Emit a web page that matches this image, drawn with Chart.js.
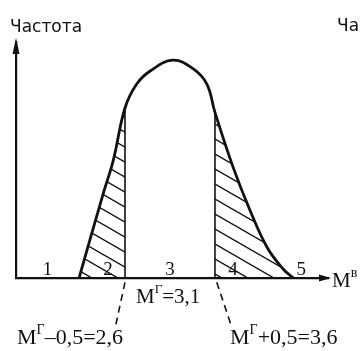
<!DOCTYPE html>
<html>
<head>
<meta charset="utf-8">
<script src="https://cdn.jsdelivr.net/npm/chart.js@4/dist/chart.umd.min.js"></script>
<style>
  body { margin: 0; background: #fff; }
  #wrap { width: 363px; height: 351px; }
</style>
</head>
<body>
<div id="wrap"><canvas id="freqChart"></canvas></div>
<script>
// frequency curve (x in M units, y = relative frequency)
const curveX = [2.09, 2.36, 2.47, 2.6, 2.73, 2.88, 3.13, 3.36, 3.51, 3.6, 3.8, 3.99, 4.18, 4.36, 4.47];
const curveY = [0, 0.39, 0.54, 0.78, 0.89, 0.95, 1.0, 0.96, 0.89, 0.76, 0.51, 0.31, 0.14, 0.04, 0];

// mean and the +/- 0.5 bounds
const meanValue = 3.1;
const lowBound = 2.6;
const highBound = 3.6;

// zone numbers along the axis
const zoneLabels = ["1", "2", "3", "4", "5"];
const zoneX = [1.74, 2.41, 3.1, 3.8, 4.56];

const toPoints = (xs, ys) => xs.map((x, i) => ({ x: x, y: ys[i] }));
const curvePts = toPoints(curveX, curveY);
const leftPts = curvePts.filter(p => p.x <= lowBound);
const rightPts = curvePts.filter(p => p.x >= highBound);
const yAt = (x) => curvePts.find(p => p.x === x).y;

// diagonal hatch pattern
function makeHatch() {
  const w = 26, h = 15;
  const c = document.createElement("canvas");
  c.width = w; c.height = h;
  const g = c.getContext("2d");
  g.strokeStyle = "#111";
  g.lineWidth = 1.4;
  g.beginPath();
  g.moveTo(-w, -h); g.lineTo(2 * w, 2 * h);
  g.moveTo(-w, 0); g.lineTo(w, 2 * h);
  g.moveTo(0, -h); g.lineTo(2 * w, h);
  g.stroke();
  return g.createPattern(c, "repeat");
}
const hatch = makeHatch();

function richText(ctx, parts, x, y) {
  parts.forEach(p => {
    ctx.font = p.size + "px 'Liberation Serif'";
    ctx.fillText(p.t, x, y + (p.dy || 0));
    x += ctx.measureText(p.t).width + (p.gap || 0);
  });
}

const decorPlugin = {
  id: "decor",
  afterDraw(chart) {
    const ctx = chart.ctx;
    const xs = chart.scales.x, ys = chart.scales.y;
    const x0 = xs.getPixelForValue(xs.min), y0 = ys.getPixelForValue(0);
    const yTop = ys.getPixelForValue(ys.max), xEnd = xs.getPixelForValue(xs.max);
    ctx.save();
    ctx.fillStyle = "#111";
    // arrow heads
    ctx.beginPath();
    ctx.moveTo(x0, yTop - 4); ctx.lineTo(x0 - 3.5, yTop + 12); ctx.lineTo(x0 + 3.5, yTop + 12);
    ctx.closePath(); ctx.fill();
    ctx.beginPath();
    ctx.moveTo(xEnd + 3, y0); ctx.lineTo(xEnd - 9, y0 - 3.5); ctx.lineTo(xEnd - 9, y0 + 3.5);
    ctx.closePath(); ctx.fill();

    ctx.textBaseline = "alphabetic";
    ctx.font = "17px 'DejaVu Sans'";
    ctx.fillText("Частота", 10, 32);
    ctx.fillText("Ча", 337, 31);

    ctx.textAlign = "left";
    richText(ctx, [{ t: "M", size: 21 }, { t: "в", size: 14, dy: -10 }], xEnd + 4, y0 + 9);

    ctx.textAlign = "center";
    ctx.font = "19px 'Liberation Serif'";
    zoneLabels.forEach((s, i) => ctx.fillText(s, xs.getPixelForValue(zoneX[i]), y0 - 3));

    ctx.textAlign = "left";
    const mx = xs.getPixelForValue(meanValue);
    richText(ctx, [{ t: "M", size: 21 }, { t: "Г", size: 13, dy: -10 }, { t: "=" + String(meanValue).replace(".", ","), size: 21 }], mx - 34, y0 + 25);
    richText(ctx, [{ t: "M", size: 22 }, { t: "Г", size: 14, dy: -10 }, { t: "–0,5=" + String(lowBound).replace(".", ","), size: 22, }], 17, y0 + 66);
    richText(ctx, [{ t: "M", size: 22 }, { t: "Г", size: 14, dy: -10 }, { t: "+0,5=" + String(highBound).replace(".", ","), size: 22 }], 230, y0 + 66);
    ctx.restore();
  }
};

new Chart(document.getElementById("freqChart"), {
  type: "scatter",
  data: {
    datasets: [
      {
        data: leftPts, showLine: true, fill: "origin", backgroundColor: hatch,
        borderWidth: 0, pointRadius: 0, tension: 0.4
      },
      {
        data: rightPts, showLine: true, fill: "origin", backgroundColor: hatch,
        borderWidth: 0, pointRadius: 0, tension: 0.4
      },
      {
        data: [{ x: lowBound, y: 0 }, { x: lowBound, y: yAt(lowBound) }],
        showLine: true, borderColor: "#111", borderWidth: 1.6, pointRadius: 0
      },
      {
        data: [{ x: highBound, y: 0 }, { x: highBound, y: yAt(highBound) }],
        showLine: true, borderColor: "#111", borderWidth: 1.6, pointRadius: 0
      },
      {
        data: curvePts, showLine: true, borderColor: "#111", borderWidth: 2.8,
        pointRadius: 0, tension: 0.4
      },
      {
        data: [{ x: lowBound, y: -0.02 }, { x: lowBound - 0.11, y: -0.23 }],
        showLine: true, borderColor: "#111", borderWidth: 1.6, borderDash: [7, 5],
        pointRadius: 0, clip: false
      },
      {
        data: [{ x: highBound + 0.02, y: -0.02 }, { x: highBound + 0.19, y: -0.23 }],
        showLine: true, borderColor: "#111", borderWidth: 1.6, borderDash: [7, 5],
        pointRadius: 0, clip: false
      }
    ]
  },
  options: {
    responsive: true,
    maintainAspectRatio: false,
    animation: false,
    layout: { padding: { left: 16, right: 35, top: 42, bottom: 73 } },
    plugins: { legend: { display: false }, tooltip: { enabled: false } },
    scales: {
      x: {
        type: "linear", min: 1.389, max: 4.856,
        grid: { display: false, drawTicks: false },
        ticks: { display: false },
        border: { display: true, color: "#111", width: 2.2 }
      },
      y: {
        min: 0, max: 1.083,
        grid: { display: false, drawTicks: false },
        ticks: { display: false },
        border: { display: true, color: "#111", width: 2.2 }
      }
    }
  },
  plugins: [decorPlugin]
});
</script>
</body>
</html>
